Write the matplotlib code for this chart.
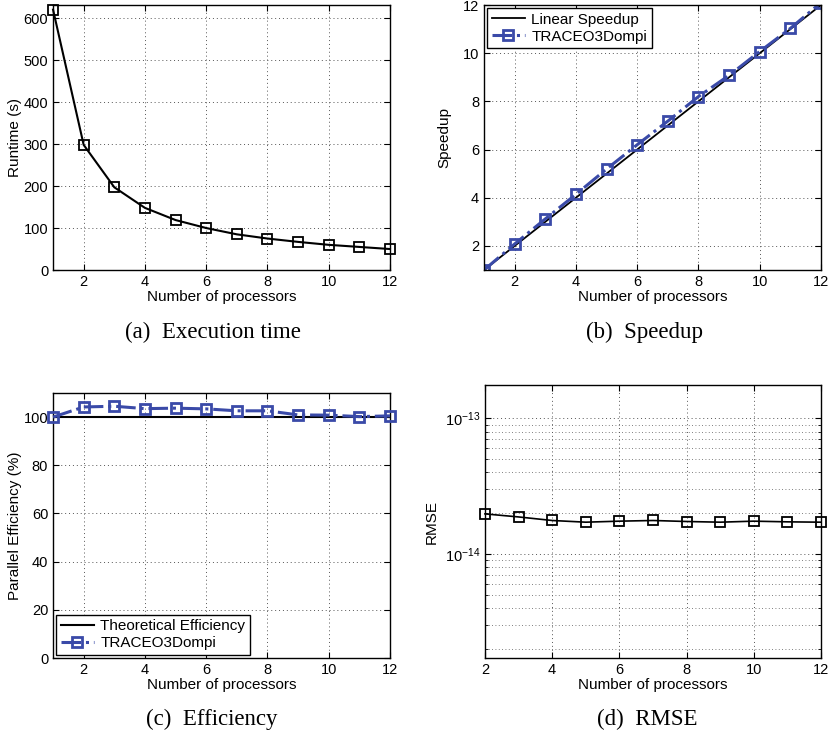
import matplotlib

matplotlib.use("Agg")
import matplotlib.pyplot as plt
from matplotlib.ticker import LogLocator, NullFormatter

plt.rcParams["font.family"] = ["Liberation Sans", "DejaVu Sans"]

# data
procs = list(range(1, 13))
runtime = [620, 298, 197, 148, 119, 100, 85, 75, 67, 60, 55, 50]
speedup = [1.0, 2.08, 3.12, 4.14, 5.19, 6.2, 7.18, 8.2, 9.08, 10.07, 11.03, 12.1]
linear = [1, 12]
efficiency = [100, 104.2, 104.5, 103.5, 103.7, 103.4, 102.6, 102.6, 100.9, 100.8, 100.2, 100.5]
theoretical = [100, 100]
rmse_procs = list(range(2, 13))
rmse = [1.98e-14, 1.88e-14, 1.77e-14, 1.72e-14, 1.75e-14, 1.77e-14,
        1.74e-14, 1.72e-14, 1.75e-14, 1.73e-14, 1.72e-14]

BLUE = "#3a4aa8"
TICK_FS = 10.5
LAB_FS = 11
CAP_FS = 16.5


def style(ax):
    ax.tick_params(direction="in", top=True, right=True, labelsize=TICK_FS,
                   length=4, width=0.8)
    ax.tick_params(which="minor", direction="in", top=True, right=True,
                   length=2, width=0.6)
    ax.grid(True, which="major", linestyle=(0, (1, 3)), color="#555555",
            linewidth=0.7)
    for s in ax.spines.values():
        s.set_linewidth(1.0)
    ax.set_xlabel("Number of processors", fontsize=LAB_FS, labelpad=1)


fig = plt.figure(figsize=(8.34, 7.38), dpi=100)

# (a) execution time
ax = fig.add_axes([0.0636, 0.6341, 0.404, 0.3591])
ax.plot(procs, runtime, "-", color="black", lw=1.5, marker="s", ms=7,
        mfc="none", mec="black", mew=1.3, clip_on=False, zorder=3)
ax.set_xlim(1, 12)
ax.set_ylim(0, 631)
ax.set_xticks([2, 4, 6, 8, 10, 12])
ax.set_yticks(range(0, 601, 100))
ax.set_ylabel("Runtime (s)", fontsize=LAB_FS, labelpad=1)
style(ax)

# (b) speedup
ax = fig.add_axes([0.5803, 0.6341, 0.4041, 0.3591])
ax.plot(linear, linear, "-", color="black", lw=1.3, label="Linear Speedup")
ax.plot(procs, speedup, linestyle="-.", color=BLUE, lw=2.2, marker="s", ms=7,
        mfc="none", mec=BLUE, mew=2.0, label="TRACEO3Dompi")
ax.set_xlim(1, 12)
ax.set_ylim(1, 12)
ax.set_xticks([2, 4, 6, 8, 10, 12])
ax.set_yticks([2, 4, 6, 8, 10, 12])
ax.set_ylabel("Speedup", fontsize=LAB_FS, labelpad=8)
style(ax)
leg = ax.legend(loc="upper left", fontsize=11, fancybox=False, framealpha=1,
                edgecolor="black", borderaxespad=0.2, handlelength=2.2,
                borderpad=0.3, labelspacing=0.2, handletextpad=0.4)
leg.get_frame().set_linewidth(1.0)

# (c) efficiency
ax = fig.add_axes([0.0636, 0.1084, 0.404, 0.3591])
ax.plot([1, 12], theoretical, "-", color="black", lw=1.5,
        label="Theoretical Efficiency")
ax.plot(procs, efficiency, linestyle="-.", color=BLUE, lw=2.2, marker="s",
        ms=7, mfc="none", mec=BLUE, mew=2.0, clip_on=False, zorder=3,
        label="TRACEO3Dompi")
ax.set_xlim(1, 12)
ax.set_ylim(0, 110)
ax.set_xticks([2, 4, 6, 8, 10, 12])
ax.set_yticks(range(0, 101, 20))
ax.set_ylabel("Parallel Efficiency (%)", fontsize=LAB_FS, labelpad=1)
style(ax)
leg = ax.legend(loc="lower left", fontsize=11, fancybox=False, framealpha=1,
                edgecolor="black", borderaxespad=0.2, handlelength=2.2,
                borderpad=0.3, labelspacing=0.2, handletextpad=0.4)
leg.get_frame().set_linewidth(1.0)

# (d) RMSE
ax = fig.add_axes([0.5815, 0.1084, 0.4029, 0.3699])
ax.plot(rmse_procs, rmse, "-", color="black", lw=1.2, marker="s", ms=7,
        mfc="none", mec="black", mew=1.3, clip_on=False, zorder=3)
ax.set_yscale("log")
ax.set_xlim(2, 12)
ax.set_ylim(1.72e-15, 1.76e-13)
ax.set_xticks([2, 4, 6, 8, 10, 12])
ax.yaxis.set_major_locator(LogLocator(base=10, numticks=10))
ax.yaxis.set_minor_locator(LogLocator(base=10, subs=range(2, 10), numticks=20))
ax.yaxis.set_minor_formatter(NullFormatter())
ax.set_ylabel("RMSE", fontsize=LAB_FS, labelpad=4)
style(ax)
ax.grid(True, which="minor", axis="y", linestyle=(0, (1, 3)),
        color="#555555", linewidth=0.6)

# sub-captions
cap = dict(ha="center", va="center", fontsize=CAP_FS,
           family=["Liberation Serif", "DejaVu Serif"])
fig.text(213 / 834, 1 - 332 / 738, "(a)  Execution time", **cap)
fig.text(645 / 834, 1 - 332 / 738, "(b)  Speedup", **cap)
fig.text(212 / 834, 1 - 719 / 738, "(c)  Efficiency", **cap)
fig.text(647 / 834, 1 - 719 / 738, "(d)  RMSE", **cap)

fig.savefig("out.png", dpi=100)
